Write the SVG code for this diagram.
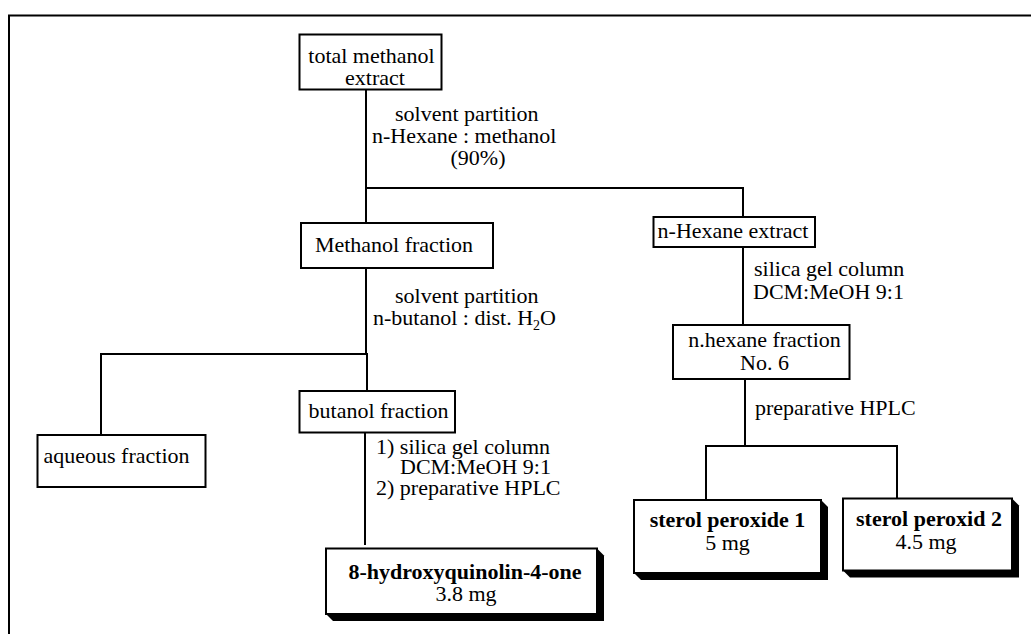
<svg xmlns="http://www.w3.org/2000/svg" width="1031" height="634" viewBox="0 0 1031 634">
  <style>
    text { font-family: "Liberation Serif", "Times New Roman", serif; font-size: 22px; fill: #000; }
    .b { font-weight: bold; }
    .mid { text-anchor: middle; }
    .box { fill: #fff; stroke: #000; stroke-width: 2; }
    .shadow { fill: #000; }
    .wire { fill: none; stroke: #000; stroke-width: 2; }
  </style>
  <rect x="0" y="0" width="1031" height="634" fill="#fff"/>
  <!-- outer frame (continues past the right and bottom edges) -->
  <path class="wire" d="M9,634 V15.5 H1031"/>

  <!-- connectors and step labels -->
  <g id="connectors">
    <path class="wire" d="M366,89 V223 M366,188 H743 V217"/>
    <path class="wire" d="M743,247 V325"/>
    <path class="wire" d="M745,379 V446 M706,500 V446 H897 V499"/>
    <path class="wire" d="M366,268 V354 M101,435 V354 H367 V391"/>
    <path class="wire" d="M365,432 V545"/>
    <text x="395" y="121">solvent partition</text>
    <text x="372" y="143">n-Hexane : methanol</text>
    <text x="478" y="165" class="mid">(90%)</text>
    <text x="754" y="276">silica gel column</text>
    <text x="753" y="299">DCM:MeOH 9:1</text>
    <text x="755" y="415">preparative HPLC</text>
    <text x="395" y="303">solvent partition</text>
    <text x="373" y="325">n-butanol : dist. H<tspan font-size="14" dy="5">2</tspan><tspan dy="-5">O</tspan></text>
    <text x="376" y="454">1) silica gel column</text>
    <text x="400" y="474">DCM:MeOH 9:1</text>
    <text x="376" y="495">2) preparative HPLC</text>
  </g>

  <g id="total-methanol-extract">
    <rect class="box" x="299.5" y="34.5" width="142" height="55"/>
    <text x="371.5" y="63" class="mid">total methanol</text>
    <text x="375" y="85" class="mid">extract</text>
  </g>

  <g id="n-hexane-extract">
    <rect class="box" x="653.5" y="217" width="161.5" height="30"/>
    <text x="733" y="237.5" class="mid">n-Hexane extract</text>
  </g>

  <g id="methanol-fraction">
    <rect class="box" x="301" y="223" width="192" height="45"/>
    <text x="394" y="252" class="mid">Methanol fraction</text>
  </g>

  <g id="n-hexane-fraction-6">
    <rect class="box" x="673" y="325" width="176.5" height="54"/>
    <text x="764.5" y="347" class="mid">n.hexane fraction</text>
    <text x="764.5" y="370" class="mid">No. 6</text>
  </g>

  <g id="aqueous-fraction">
    <rect class="box" x="37.5" y="435" width="168" height="52"/>
    <text x="43.5" y="463">aqueous fraction</text>
  </g>

  <g id="butanol-fraction">
    <rect class="box" x="299.5" y="391" width="155.5" height="41.5"/>
    <text x="378.5" y="418" class="mid">butanol fraction</text>
  </g>

  <g id="hydroxyquinolinone">
    <polygon class="shadow" points="326,614 333,621 604,621 604,555.5 597,548.5"/>
    <rect class="box" x="326" y="548.5" width="271" height="65.5"/>
    <text x="465" y="579" class="mid b">8-hydroxyquinolin-4-one</text>
    <text x="466" y="601" class="mid">3.8 mg</text>
  </g>

  <g id="sterol-peroxide-1">
    <polygon class="shadow" points="634,573 641,580 828,580 828,507 821,500"/>
    <rect class="box" x="634" y="500" width="187" height="73"/>
    <text x="727.5" y="527" class="mid b">sterol peroxide 1</text>
    <text x="727.5" y="549.5" class="mid">5 mg</text>
  </g>

  <g id="sterol-peroxid-2">
    <polygon class="shadow" points="843,570.5 850,577.5 1019,577.5 1019,505.5 1012,498.5"/>
    <rect class="box" x="843" y="498.5" width="169" height="72"/>
    <text x="929" y="526" class="mid b">sterol peroxid 2</text>
    <text x="926" y="548.5" class="mid">4.5 mg</text>
  </g>
</svg>
